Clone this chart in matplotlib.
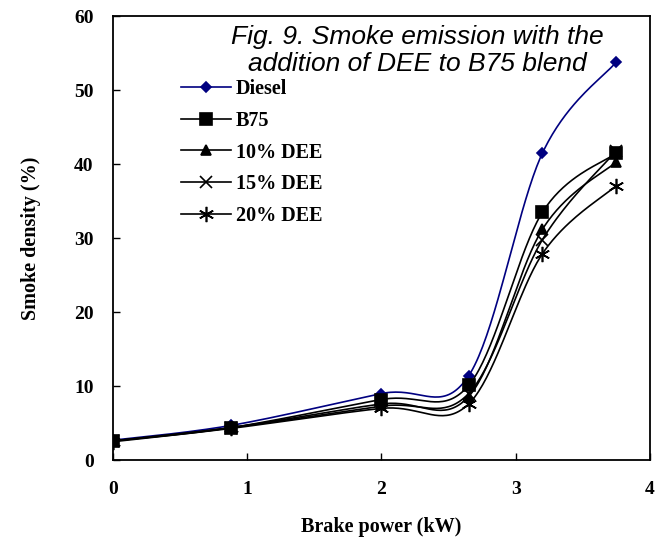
import numpy as np
import matplotlib
matplotlib.use('Agg')
import matplotlib.pyplot as plt
from matplotlib.lines import Line2D

# brake power (kW) and smoke density (%)
power = [0, 0.88, 2.0, 2.65, 3.2, 3.75]
diesel = [2.7, 4.7, 9.0, 11.4, 41.5, 53.8]
b75 = [2.6, 4.4, 8.2, 10.1, 33.5, 41.5]
dee10 = [2.6, 4.4, 7.6, 8.6, 31.2, 40.3]
dee15 = [2.6, 4.4, 7.3, 9.0, 29.8, 41.8]
dee20 = [2.5, 4.3, 7.0, 7.6, 27.9, 37.1]

labels = ['Diesel', 'B75', '10% DEE', '15% DEE', '20% DEE']
series = [diesel, b75, dee10, dee15, dee20]
colors = ['#000080', 'black', 'black', 'black', 'black']
markers = ['D', 's', '^', 'x', (6, 2, 0)]
msizes = [5, 8, 7, 9, 11]


def smooth(x, y, n=40):
    # excel-like smoothed line: bezier through points
    x = np.asarray(x, float)
    y = np.asarray(y, float)
    px = np.concatenate([[x[0]], x, [x[-1]]])
    py = np.concatenate([[y[0]], y, [y[-1]]])
    xs, ys = [], []
    t = np.linspace(0, 1, n)
    for i in range(1, len(px) - 2):
        p0 = np.array([px[i], py[i]])
        p3 = np.array([px[i + 1], py[i + 1]])
        p1 = p0 + (p3 - np.array([px[i - 1], py[i - 1]])) / 6
        p2 = p3 - (np.array([px[i + 2], py[i + 2]]) - p0) / 6
        pts = ((1 - t) ** 3)[:, None] * p0 + (3 * (1 - t) ** 2 * t)[:, None] * p1 \
            + (3 * (1 - t) * t ** 2)[:, None] * p2 + (t ** 3)[:, None] * p3
        xs.extend(pts[:, 0])
        ys.extend(pts[:, 1])
    return xs, ys


fig = plt.figure(figsize=(6.57, 5.37), dpi=100)
ax = fig.add_axes([0.172, 0.143, 0.817, 0.827])

handles = []
for y, lab, c, m, ms in zip(series, labels, colors, markers, msizes):
    sx, sy = smooth(power, y)
    ax.plot(sx, sy, color=c, lw=1.2)
    ax.plot(power, y, linestyle='none', marker=m, markersize=ms, color=c,
            markeredgewidth=1.2)
    handles.append(Line2D([], [], color=c, lw=1.2, marker=m, markersize=ms,
                          markeredgewidth=1.2))

ax.set_xlim(0, 4)
ax.set_ylim(0, 60)
ax.set_xticks([0, 1, 2, 3, 4])
ax.set_yticks(range(0, 61, 10))
ax.tick_params(direction='in', length=5, width=1, labelsize=14)
ax.tick_params(axis='y', pad=14)
ax.tick_params(axis='x', pad=15)
for lbl in ax.get_xticklabels() + ax.get_yticklabels():
    lbl.set_fontfamily('Liberation Serif')
    lbl.set_fontweight('bold')
for sp in ax.spines.values():
    sp.set_linewidth(1.3)

ax.set_xlabel('Brake power (kW)', fontfamily='Liberation Serif', fontweight='bold',
              fontsize=14.5, labelpad=14)
ax.set_ylabel('Smoke density (%)', fontfamily='Liberation Serif', fontweight='bold',
              fontsize=14.5, labelpad=24)

leg = ax.legend(handles, labels, loc='upper left', bbox_to_anchor=(0.126, 0.858),
                frameon=False, handlelength=2.5, handletextpad=0.25, labelspacing=0.58,
                borderpad=0, borderaxespad=0,
                prop={'family': 'Liberation Serif', 'weight': 'bold', 'size': 14.5})

ax.text(0.567, 0.979, 'Fig. 9. Smoke emission with the\naddition of DEE to B75 blend',
        transform=ax.transAxes, ha='center', va='top', fontsize=19,
        fontfamily='Liberation Sans', style='italic', linespacing=1.14)

fig.savefig('out.png', dpi=100)
